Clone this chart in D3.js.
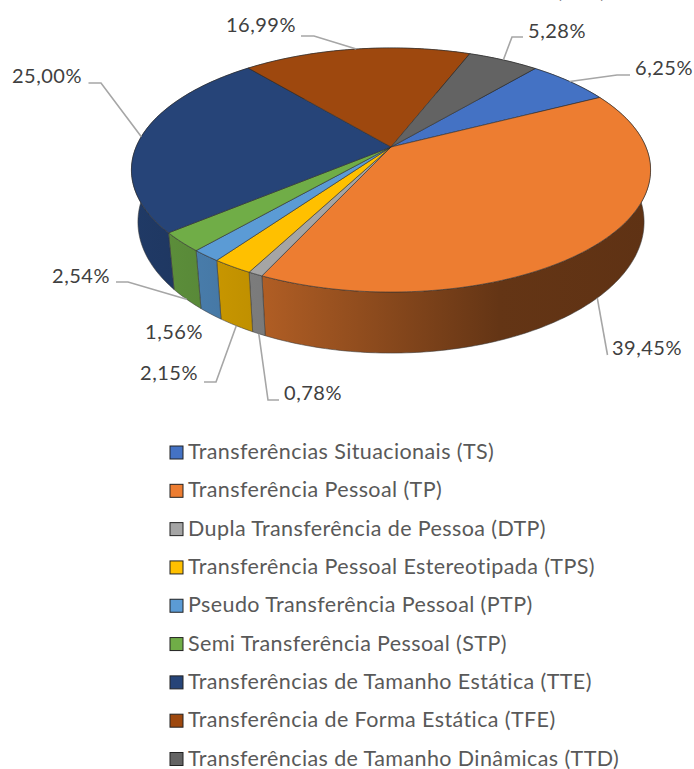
<!DOCTYPE html>
<html lang="en">
<head>
    <meta charset="UTF-8">
    <title>Transferências</title>
    <style>
        html, body { margin: 0; padding: 0; background: #fff; }
        svg { display: block; }
    </style>
</head>
<body>
    <svg width="694" height="769" id="svg"></svg>
    <script src="https://d3js.org/d3.v7.min.js"></script>
    <script>
        let categories = ['Transferências Situacionais (TS)', 'Transferência Pessoal (TP)',
            'Dupla Transferência de Pessoa (DTP)', 'Transferência Pessoal Estereotipada (TPS)',
            'Pseudo Transferência Pessoal (PTP)', 'Semi Transferência Pessoal (STP)',
            'Transferências de Tamanho Estática (TTE)', 'Transferência de Forma Estática (TFE)',
            'Transferências de Tamanho Dinâmicas (TTD)']
        let values = [6.25, 39.45, 0.78, 2.15, 1.56, 2.54, 25.00, 16.99, 5.28]
        let valueLabels = ['6,25%', '39,45%', '0,78%', '2,15%', '1,56%', '2,54%', '25,00%', '16,99%', '5,28%']
        let colors = ['#4472C4', '#ED7D31', '#A5A5A5', '#FFC000', '#5B9BD5', '#70AD47', '#264478', '#9E480E', '#636363']

        // where the text sits and where the leader bends (null = no leader)
        let labelX = [664, 647, 313, 169, 174, 81, 47, 261, 557]
        let labelY = [68, 348, 393, 373, 332, 276, 76, 25, 31]
        let leaderEnd = [[630, 75], [607.5, 355], [279, 400], [204, 382], null, [116, 282], [88.5, 83], [301, 36], [523, 37]]
        let leaderBend = [[617, 75], null, [268, 400], [216, 382], null, [128, 282], [101, 83], [314, 36], [512, 37]]

        var svg = d3.select("svg")
        var defs = svg.append("defs")

        // perspective of the pie: unit circle -> screen
        var apexX = 391, apexTop = 147, apexBottom = 197.3
        var k = 0.1885, a = 117.7, b = 254.9, bottomX = 0.975, bottomY = 1.074
        function project(angle, bottom) {
            var X = Math.sin(angle), Y = -Math.cos(angle)
            var p = 1 / (1 - k * Y)
            return [apexX + X * p * b * (bottom ? bottomX : 1),
                (bottom ? apexBottom : apexTop) + Y * p * a * (bottom ? bottomY : 1)]
        }

        var pie = d3.pie().sort(null).value(d => d)
            .startAngle(40.3 * Math.PI / 180).endAngle((40.3 + 360) * Math.PI / 180)
        var slices = pie(values)

        function rim(d, bottom) {
            var n = Math.max(2, Math.ceil((d.endAngle - d.startAngle) * 60))
            return d3.range(n + 1).map(i => project(d.startAngle + (d.endAngle - d.startAngle) * i / n, bottom))
        }
        var line = d3.line()

        // side shading runs left to right over the whole pie
        var shadeStops = [[0, 0.85], [0.26, 0.74], [0.71, 0.42], [1, 0.40]]
        colors.forEach(function (c, i) {
            var g = defs.append("linearGradient").attr("id", "side" + i)
                .attr("gradientUnits", "userSpaceOnUse")
                .attr("x1", 131).attr("x2", 650).attr("y1", 0).attr("y2", 0)
            shadeStops.forEach(function (s) {
                var r = d3.rgb(c)
                g.append("stop").attr("offset", s[0])
                    .attr("stop-color", d3.rgb(r.r * s[1], r.g * s[1], r.b * s[1]).formatHex())
            })
        })

        // walls first, top faces over them
        svg.append("g").selectAll("path").data(slices).enter().append("path")
            .attr("d", d => line(rim(d, false).concat(rim(d, true).reverse())) + "Z")
            .attr("fill", (d, i) => "url(#side" + i + ")")
            .attr("stroke", "#3a3a3a").attr("stroke-opacity", 0.7).attr("stroke-width", 0.8)

        svg.append("g").selectAll("path").data(slices).enter().append("path")
            .attr("d", d => line([[apexX, apexTop]].concat(rim(d, false))) + "Z")
            .attr("fill", (d, i) => colors[i])
            .attr("stroke", "#2e2e2e").attr("stroke-opacity", 0.75).attr("stroke-width", 0.8)

        // leader lines start at the middle of the slice edge
        svg.append("g").selectAll("path").data(slices).enter().append("path")
            .filter((d, i) => leaderEnd[i] !== null)
            .attr("d", function (d) {
                var i = d.index, mid = (d.startAngle + d.endAngle) / 2
                var pts = [project(mid, Math.cos(mid) < 0)]
                if (leaderBend[i]) pts.push(leaderBend[i])
                pts.push(leaderEnd[i])
                return line(pts)
            })
            .attr("fill", "none").attr("stroke", "#a6a6a6").attr("stroke-width", 1.6)

        svg.append("g").selectAll("text").data(valueLabels).enter().append("text")
            .attr("x", (d, i) => labelX[i]).attr("y", (d, i) => labelY[i] + 7)
            .attr("text-anchor", "middle")
            .attr("font-family", "Lato").attr("font-size", 20).attr("letter-spacing", 0.5).attr("fill", "#404040")
            .text(d => d)

        // the source image cuts a label off at its top edge
        svg.append("text").attr("x", 581).attr("y", -2).attr("text-anchor", "middle")
            .attr("font-family", "Lato").attr("font-size", 20).attr("fill", "#404040").text("(TTD)")

        // legend
        var legendY = d3.scalePoint().domain(categories).range([452.5, 759])
        var legend = svg.append("g").selectAll("g").data(categories).enter().append("g")
            .attr("transform", d => "translate(0," + legendY(d) + ")")
        legend.append("rect").attr("x", 170).attr("y", -6.5).attr("width", 13).attr("height", 13)
            .attr("fill", (d, i) => colors[i]).attr("stroke", "#222").attr("stroke-width", 1)
        legend.append("text").attr("x", 188).attr("y", 6.5)
            .attr("font-family", "Lato").attr("font-size", 21.5).attr("letter-spacing", 0.4).attr("fill", "#595959")
            .text(d => d)
    </script>
</body>
</html>
